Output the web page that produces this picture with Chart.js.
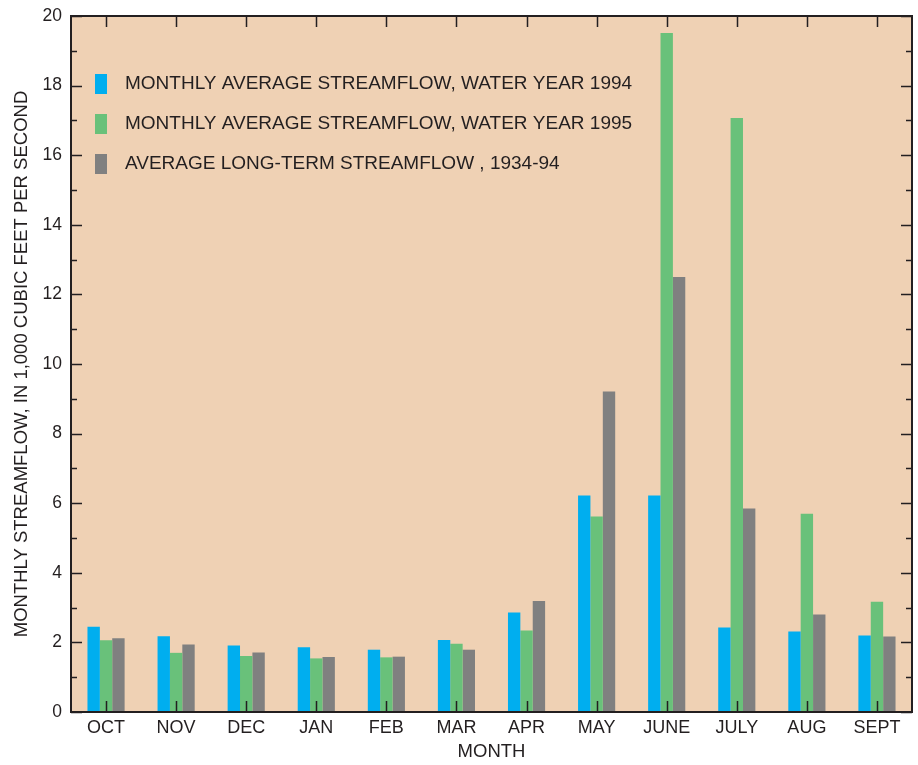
<!DOCTYPE html>
<html>
<head>
<meta charset="utf-8">
<title>Monthly streamflow</title>
<script src="https://cdn.jsdelivr.net/npm/chart.js@4.4.1/dist/chart.umd.min.js"></script>
<style>
  html, body { margin: 0; padding: 0; background: #ffffff; }
  #wrap { width: 918px; height: 765px; position: relative; }
</style>
</head>
<body>
<div id="wrap"><canvas id="chart" width="918" height="765"></canvas></div>
<script>
// Months of the water year
const months = ['OCT', 'NOV', 'DEC', 'JAN', 'FEB', 'MAR', 'APR', 'MAY', 'JUNE', 'JULY', 'AUG', 'SEPT'];

// Streamflow, thousands of cubic feet per second
const flow1994 = [2.45, 2.18, 1.91, 1.86, 1.79, 2.07, 2.86, 6.22, 6.22, 2.43, 2.31, 2.20];
const flow1995 = [2.06, 1.70, 1.61, 1.54, 1.57, 1.96, 2.34, 5.62, 19.51, 17.07, 5.70, 3.17];
const flowLongTerm = [2.12, 1.94, 1.71, 1.58, 1.59, 1.79, 3.19, 9.21, 12.50, 5.85, 2.80, 2.17];

// Value axis
const yMin = 0;
const yMax = 20;
const yStep = 2;

const seriesLabels = [
  'MONTHLY AVERAGE STREAMFLOW, WATER YEAR 1994',
  'MONTHLY AVERAGE STREAMFLOW, WATER YEAR 1995',
  'AVERAGE LONG-TERM STREAMFLOW , 1934-94'
];
const seriesColors = ['#00aeef', '#69c17a', '#808080'];

const INK = '#231f20';
const FONT = '"Liberation Sans", Arial, sans-serif';

// Peach plot background
const plotBackground = {
  id: 'plotBackground',
  beforeDraw(chart) {
    const { ctx, chartArea: a } = chart;
    ctx.save();
    ctx.fillStyle = '#efd1b4';
    ctx.fillRect(a.left, a.top, a.right - a.left, a.bottom - a.top);
    ctx.restore();
  }
};

// Frame with inward tick marks on all four sides
const frameTicks = {
  id: 'frameTicks',
  afterDatasetsDraw(chart) {
    const { ctx, chartArea: a, scales } = chart;
    const y = scales.y, x = scales.x;
    ctx.save();
    ctx.strokeStyle = INK;
    ctx.lineWidth = 1.5;
    ctx.beginPath();
    for (let v = yMin; v <= yMax; v += 1) {
      const py = Math.round(y.getPixelForValue(v)) + 0.5;
      const len = (v % yStep === 0) ? 11 : 6;
      ctx.moveTo(a.left, py); ctx.lineTo(a.left + len, py);
      ctx.moveTo(a.right, py); ctx.lineTo(a.right - len, py);
    }
    for (let i = 0; i < months.length; i++) {
      const px = Math.round(x.getPixelForValue(i)) + 0.5;
      ctx.moveTo(px, a.top); ctx.lineTo(px, a.top + 11);
      ctx.moveTo(px, a.bottom); ctx.lineTo(px, a.bottom - 11);
    }
    ctx.stroke();
    ctx.lineWidth = 2;
    ctx.strokeRect(a.left, a.top, a.right - a.left, a.bottom - a.top);
    ctx.restore();
  }
};

// Key drawn in the upper left of the plot
const insideKey = {
  id: 'insideKey',
  afterDraw(chart) {
    const { ctx, chartArea: a } = chart;
    ctx.save();
    ctx.font = '19px ' + FONT;
    ctx.textBaseline = 'middle';
    ctx.textAlign = 'left';
    chart.data.datasets.forEach((ds, i) => {
      const cy = a.top + 68 + i * 40;
      ctx.fillStyle = ds.backgroundColor;
      ctx.fillRect(a.left + 24, cy - 10, 12, 20);
      ctx.fillStyle = INK;
      ctx.fillText(ds.label, a.left + 54, cy);
    });
    ctx.restore();
  }
};

new Chart(document.getElementById('chart'), {
  type: 'bar',
  data: {
    labels: months,
    datasets: [
      { label: seriesLabels[0], data: flow1994, backgroundColor: seriesColors[0] },
      { label: seriesLabels[1], data: flow1995, backgroundColor: seriesColors[1] },
      { label: seriesLabels[2], data: flowLongTerm, backgroundColor: seriesColors[2] }
    ]
  },
  options: {
    responsive: false,
    animation: false,
    devicePixelRatio: 1,
    categoryPercentage: 0.53,
    barPercentage: 1.0,
    layout: { padding: { top: 16, right: 6, left: 0, bottom: 0 } },
    plugins: {
      legend: { display: false },
      tooltip: { enabled: false }
    },
    scales: {
      x: {
        grid: { display: false, drawTicks: false },
        border: { display: false },
        ticks: { color: INK, font: { family: FONT, size: 18 }, padding: 5, maxRotation: 0 },
        title: {
          display: true, text: 'MONTH', color: INK,
          font: { family: FONT, size: 18.5 }, padding: { top: 0, bottom: 2 }
        },
        afterFit(s) { s.height = 53; }
      },
      y: {
        min: yMin, max: yMax,
        // invisible tick marks give the label gap; the visible ones are drawn inward by frameTicks
        grid: { display: true, drawOnChartArea: false, drawTicks: true, tickLength: 9, color: 'rgba(0,0,0,0)' },
        border: { display: false },
        ticks: { stepSize: yStep, color: INK, font: { family: FONT, size: 17.5 }, padding: 0 },
        title: {
          display: true, text: 'MONTHLY STREAMFLOW, IN 1,000 CUBIC FEET PER SECOND', color: INK,
          font: { family: FONT, size: 18.5 }, padding: { top: 11, bottom: 0 }
        },
        afterFit(s) { s.width = 71; }
      }
    }
  },
  plugins: [plotBackground, frameTicks, insideKey]
});
</script>
</body>
</html>
